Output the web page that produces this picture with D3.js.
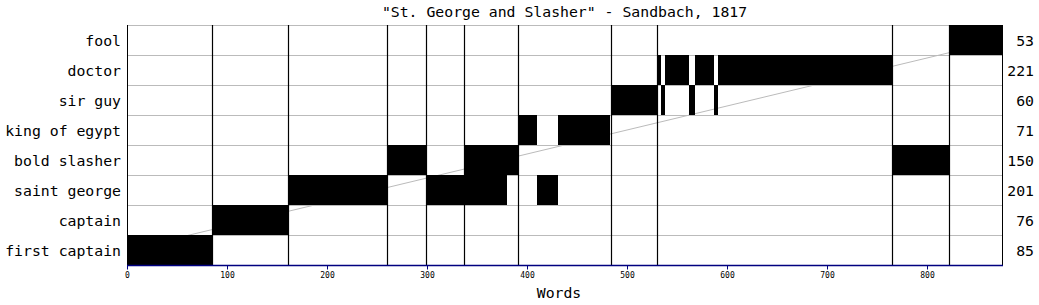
<!DOCTYPE html>
<html>
<head>
  <meta charset="UTF-8">
  <style>
    body { margin: 0; background: #fff; }
    text { font-family: "DejaVu Sans Mono", monospace; }
  </style>
</head>
<body>
<svg></svg>
<script src="https://d3js.org/d3.v7.min.js"></script>

<script>

let width = 1039, height = 305;

// speakers, top row first
const characters = ["fool", "doctor", "sir guy", "king of egypt", "bold slasher", "saint george", "captain", "first captain"];
const totals = [53, 221, 60, 71, 150, 201, 76, 85];

// word ranges spoken by each character (same order as characters)
const speeches = [
    [[822, 875]],
    [[530, 534], [538, 562], [568, 587], [591, 765]],
    [[484, 530], [534, 538], [562, 568], [587, 591]],
    [[391, 410], [431, 483]],
    [[260, 299], [337, 391], [765, 822]],
    [[161, 260], [299, 380], [410, 431]],
    [[85, 161]],
    [[0, 85]]
];

// word positions where the vertical markers are drawn
const breaks = [85, 161, 260, 299, 337, 391, 484, 530, 765, 822];
const xTicks = [0, 100, 200, 300, 400, 500, 600, 700, 800];
const totalWords = 875;

let svg = d3.select("svg")
    .attr("width", width)
    .attr("height", height);

let x = d3.scaleLinear().domain([0, totalWords]).range([127, 1002]);
let y = d3.scaleBand().domain(characters).range([25, 265]);

// row gridlines
svg.append("g")
    .selectAll("line")
    .data(characters)
    .enter()
    .append("line")
    .attr("x1", x(0))
    .attr("x2", x(totalWords))
    .attr("y1", d => y(d) + 0.5)
    .attr("y2", d => y(d) + 0.5)
    .style("stroke", "#bbbbbb")
    .style("stroke-width", "1px");

// diagonal reference line from first row centre to last row centre
svg.append("line")
    .attr("x1", x(0))
    .attr("y1", y(characters[characters.length - 1]) + y.bandwidth() / 2)
    .attr("x2", x(totalWords))
    .attr("y2", y(characters[0]) + y.bandwidth() / 2)
    .style("stroke", "#bbbbbb")
    .style("stroke-width", "1px");

// speech blocks
let blocks = [];
characters.forEach(function(c, i){
    speeches[i].forEach(function(s){
        blocks.push({name: c, start: s[0], end: s[1]});
    });
});

svg.append("g")
    .selectAll("rect")
    .data(blocks)
    .enter()
    .append("rect")
    .attr("x", d => x(d.start))
    .attr("y", d => y(d.name))
    .attr("width", d => x(d.end) - x(d.start))
    .attr("height", y.bandwidth())
    .style("fill", "black");

// vertical markers
svg.append("g")
    .selectAll("line")
    .data(breaks)
    .enter()
    .append("line")
    .attr("x1", d => Math.round(x(d)) + 0.5)
    .attr("x2", d => Math.round(x(d)) + 0.5)
    .attr("y1", 25)
    .attr("y2", 265)
    .style("stroke", "black")
    .style("stroke-width", "1.2px");

// left and right borders
svg.append("g")
    .selectAll("line")
    .data([0, totalWords])
    .enter()
    .append("line")
    .attr("x1", d => x(d) + 0.5)
    .attr("x2", d => x(d) + 0.5)
    .attr("y1", 25)
    .attr("y2", 265)
    .style("stroke", "black")
    .style("stroke-width", "1px");

// bottom axis
svg.append("line")
    .attr("x1", x(0))
    .attr("x2", x(totalWords) + 1)
    .attr("y1", 265.5)
    .attr("y2", 265.5)
    .style("stroke", "#000080")
    .style("stroke-width", "1.3px");

let ticks = svg.append("g");
ticks.selectAll("line")
    .data(xTicks)
    .enter()
    .append("line")
    .attr("x1", d => Math.round(x(d)) + 0.5)
    .attr("x2", d => Math.round(x(d)) + 0.5)
    .attr("y1", 265)
    .attr("y2", 269.5)
    .style("stroke", "#000080")
    .style("stroke-width", "1px");

ticks.selectAll("text")
    .data(xTicks)
    .enter()
    .append("text")
    .attr("x", d => x(d) + 0.5)
    .attr("y", 277.5)
    .attr("text-anchor", "middle")
    .style("font-size", "8px")
    .style("fill", "black")
    .text(d => d);

// row labels
svg.append("g")
    .selectAll("text")
    .data(characters)
    .enter()
    .append("text")
    .attr("x", 121)
    .attr("y", d => y(d) + y.bandwidth() / 2 + 5.5)
    .attr("text-anchor", "end")
    .style("font-size", "14.8px")
    .text(d => d);

// totals on the right
svg.append("g")
    .selectAll("text")
    .data(totals)
    .enter()
    .append("text")
    .attr("x", 1034)
    .attr("y", (d, i) => y(characters[i]) + y.bandwidth() / 2 + 5.5)
    .attr("text-anchor", "end")
    .style("font-size", "14.8px")
    .text(d => d);

// title and axis label
svg.append("text")
    .attr("x", (x(0) + x(totalWords)) / 2)
    .attr("y", 17)
    .attr("text-anchor", "middle")
    .style("font-size", "14.8px")
    .text('"St. George and Slasher" - Sandbach, 1817');

svg.append("text")
    .attr("x", 559)
    .attr("y", 298)
    .attr("text-anchor", "middle")
    .style("font-size", "14.8px")
    .text("Words");

</script>

</body>
</html>
